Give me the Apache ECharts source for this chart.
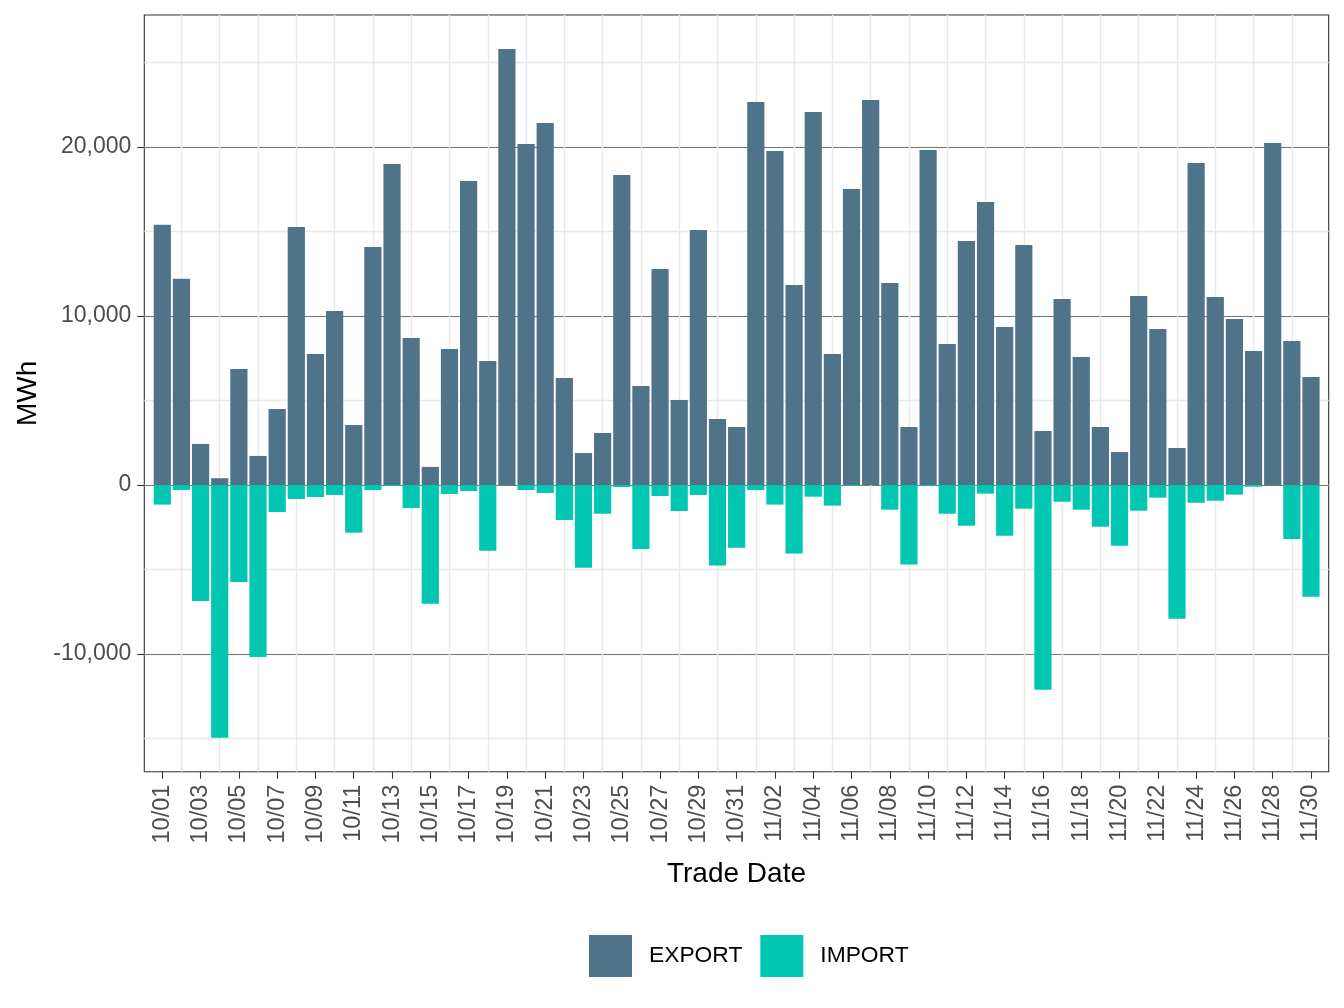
<!DOCTYPE html>
<html><head><meta charset="utf-8">
<script src="https://cdn.jsdelivr.net/npm/echarts@6/dist/echarts.min.js"></script>
<style>html,body{margin:0;padding:0;background:#fff}#c{width:1344px;height:1008px}</style>
</head><body><div id="c"></div>
<script>
const dates = ['10/01','10/02','10/03','10/04','10/05','10/06','10/07','10/08','10/09','10/10',
'10/11','10/12','10/13','10/14','10/15','10/16','10/17','10/18','10/19','10/20',
'10/21','10/22','10/23','10/24','10/25','10/26','10/27','10/28','10/29','10/30','10/31',
'11/01','11/02','11/03','11/04','11/05','11/06','11/07','11/08','11/09','11/10',
'11/11','11/12','11/13','11/14','11/15','11/16','11/17','11/18','11/19','11/20',
'11/21','11/22','11/23','11/24','11/25','11/26','11/27','11/28','11/29','11/30'];
const exportVals = [15400,12200,2430,400,6860,1720,4500,15270,7750,10300,
3550,14080,18990,8700,1070,8050,17990,7340,25800,20180,
21420,6330,1890,3080,18340,5860,12780,5030,15090,3900,
3430,22660,19760,11830,22070,7750,17520,22780,11950,3430,
19820,8340,14440,16750,9350,14200,3200,11010,7570,3430,
1950,11180,9230,2190,19050,11120,9820,7930,20240,8520,6390];
const importVals = [-1160,-300,-6860,-14950,-5740,-10180,-1600,-830,-710,-590,
-2820,-300,-60,-1360,-7020,-530,-360,-3890,0,-300,
-470,-2070,-4890,-1700,-120,-3790,-650,-1540,-590,-4770,
-3710,-300,-1160,-4060,-690,-1220,-60,0,-1460,-4710,
-60,-1700,-2410,-510,-3000,-1400,-12110,-990,-1460,-2470,
-3590,-1520,-750,-7910,-1050,-930,-570,-100,0,-3200,-6610];
const yTickValues = [-10000, 0, 10000, 20000];
const xTickIdx = dates.map((d, i) => i).filter(i => i % 2 === 0);
const seriesNames = ['EXPORT', 'IMPORT'];

const FONT = '"Liberation Sans", Arial, Helvetica, sans-serif';
const L = 144.3, R = 15.3, T = 15, B = 236.3;
const hidden = {axisLine:{show:false}, axisTick:{show:false}, axisLabel:{show:false}, splitLine:{show:false}};

const chart = echarts.init(document.getElementById('c'), null, {renderer:'canvas'});
chart.setOption({
  animation: false,
  backgroundColor: '#fff',
  grid: [
    {left:L, right:R, top:T, bottom:B, show:true, borderColor:'#333', borderWidth:1.1, backgroundColor:'transparent'},
    {left:L, right:R, top:62.5, bottom:269.5},
    {left:L, right:R, top:147, bottom:354},
    {left:181.445, right:52.14, top:T, bottom:B}
  ],
  xAxis: [
    {gridIndex:0, type:'value', min:-0.94, max:60.925, position:'bottom',
     axisLine:{show:false, onZero:false}, splitLine:{show:false},
     axisTick:{show:true, customValues:xTickIdx, length:7, lineStyle:{color:'#333', width:1.1}},
     axisLabel:{show:true, customValues:xTickIdx, rotate:90, margin:13, fontSize:23.5, color:'#4d4d4d', fontFamily:FONT,
       formatter: v => dates[Math.round(v)]},
     name:'Trade Date', nameLocation:'middle', nameGap:89,
     nameTextStyle:{fontSize:28, color:'#000', fontFamily:FONT}},
    Object.assign({gridIndex:1, type:'value', min:0, max:1}, hidden),
    Object.assign({gridIndex:2, type:'value', min:0, max:1}, hidden),
    {gridIndex:3, type:'value', min:1, max:59, interval:2,
     axisLine:{show:false}, axisTick:{show:false}, axisLabel:{show:false},
     splitLine:{show:true, lineStyle:{color:'#e8e8e8', width:1.4}}}
  ],
  yAxis: [
    {gridIndex:0, type:'value', min:-16965, max:27811, position:'left',
     axisLine:{show:false, onZero:false}, splitLine:{show:false},
     axisTick:{show:true, customValues:yTickValues, length:7, lineStyle:{color:'#333', width:1.1}},
     axisLabel:{show:true, customValues:yTickValues, margin:13, fontSize:23, color:'#4d4d4d', fontFamily:FONT,
       formatter: v => Number(v).toLocaleString('en-US')},
     name:'MWh', nameLocation:'middle', nameGap:102,
     nameTextStyle:{fontSize:28, color:'#000', fontFamily:FONT}},
    {gridIndex:1, type:'value', min:-15000, max:25000, interval:5000,
     axisLine:{show:false}, axisTick:{show:false}, axisLabel:{show:false},
     splitLine:{show:true, lineStyle:{color:'#e8e8e8', width:1.4}}},
    {gridIndex:2, type:'value', min:-10000, max:20000, interval:10000,
     axisLine:{show:false}, axisTick:{show:false}, axisLabel:{show:false},
     splitLine:{show:true, lineStyle:{color:'#6b6b6b', width:0.9}}},
    Object.assign({gridIndex:3, type:'value', min:0, max:1}, hidden)
  ],
  legend: {
    data: seriesNames, left:589, top:935, padding:0, icon:'rect', itemWidth:43, itemHeight:42, itemGap:18,
    textStyle:{fontSize:22.8, color:'#000', fontFamily:FONT, padding:[0,0,0,12]}
  },
  series: [
    {name:seriesNames[0], type:'bar', xAxisIndex:0, yAxisIndex:0, barWidth:17.2, barGap:'-100%',
     itemStyle:{color:'#4F7389'}, data: exportVals.map((v, i) => [i, v])},
    {name:seriesNames[1], type:'bar', xAxisIndex:0, yAxisIndex:0, barWidth:17.2, barGap:'-100%',
     itemStyle:{color:'#00C6B2'}, data: importVals.map((v, i) => [i, v])}
  ]
});
</script></body></html>
